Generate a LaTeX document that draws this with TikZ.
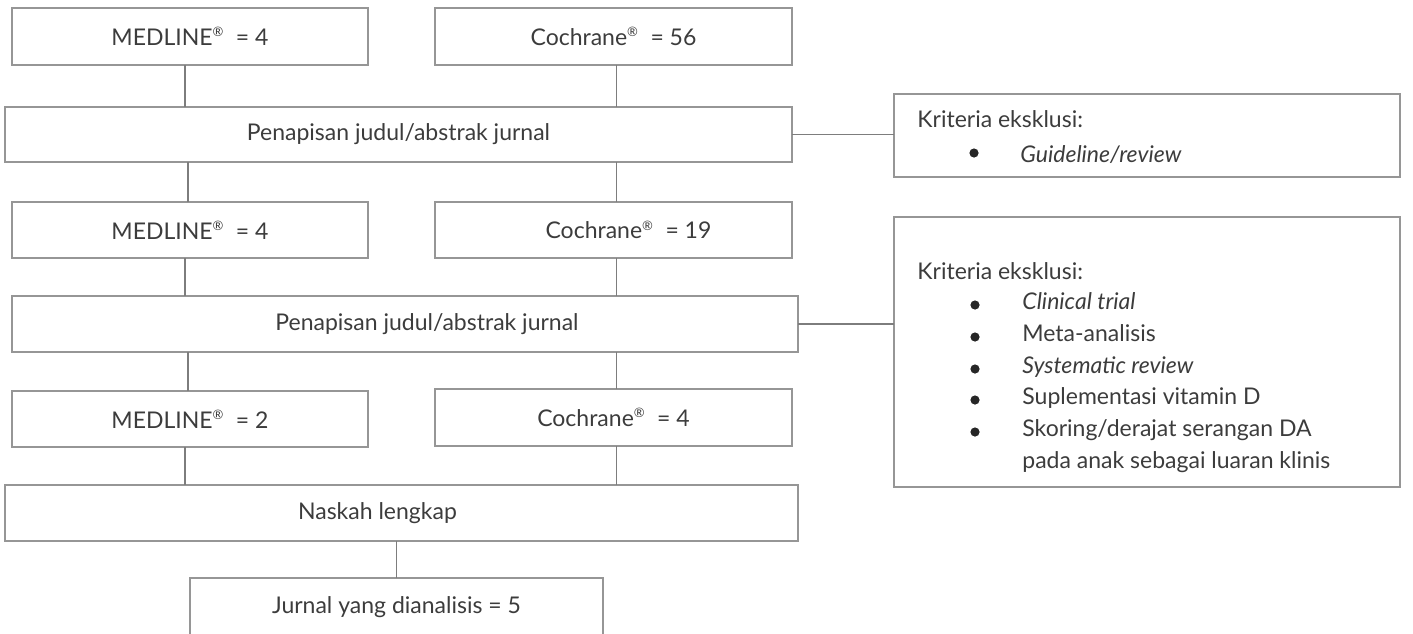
\documentclass[tikz,border=0pt]{standalone}
\usepackage{fontspec}
\setmainfont{Lato}
\definecolor{boxline}{RGB}{150,150,150}
\definecolor{connline}{RGB}{125,125,125}
\definecolor{txt}{RGB}{60,60,60}
\newcommand{\regmark}{\textsuperscript{\fontsize{6.5}{7}\selectfont ®}}
\begin{document}
\begin{tikzpicture}[x=0.5pt,y=-0.5pt,
  box/.style={draw=boxline, line width=0.6pt, inner sep=0pt, outer sep=0pt, text=txt, font=\fontsize{11.5}{14}\selectfont},
  conn/.style={draw=connline, line width=0.6pt},
  item/.style={anchor=base west, inner sep=0pt, text=txt, font=\fontsize{11.5}{14}\selectfont},
  dot/.style={circle, fill=black!85, inner sep=0pt, minimum size=4.6pt}]
\path[use as bounding box] (0,0) rectangle (1413,633);
\clip (0,0) rectangle (1413,633);
% boxes
\node[box, minimum width=178pt, minimum height=28.5pt] (m1) at (190,36.5) {MEDLINE\regmark\enspace= 4};
\node[box, minimum width=178.5pt, minimum height=28.5pt] (c1) at (613.5,36.5) {Cochrane\regmark\enspace= 56};
\node[box, minimum width=393.5pt, minimum height=27.5pt] (p1) at (398.5,134.5) {Penapisan judul/abstrak jurnal};
\node[box, minimum width=253pt, minimum height=41.5pt] (e1) at (1147,135.5) {};
\node[box, minimum width=178pt, minimum height=28pt] (m2) at (190,230) {MEDLINE\regmark\enspace= 4};
\node[box, minimum width=178.5pt, minimum height=28pt] (c2) at (613.5,230) {\hspace*{15pt}Cochrane\regmark\enspace= 19};
\node[box, minimum width=393pt, minimum height=28pt] (p2) at (405,324) {\hspace*{22pt}Penapisan judul/abstrak jurnal};
\node[box, minimum width=253pt, minimum height=135pt] (e2) at (1147,352) {};
\node[box, minimum width=178pt, minimum height=28pt] (m3) at (190,419) {MEDLINE\regmark\enspace= 2};
\node[box, minimum width=178.5pt, minimum height=28.5pt] (c3) at (613.5,417.5) {Cochrane\regmark\enspace= 4};
\node[box, minimum width=396.5pt, minimum height=28pt] (n) at (401.5,513) {Naskah lengkap\hspace*{24pt}};
\node[box, minimum width=206.5pt, minimum height=29pt] (j) at (396.5,607) {Jurnal yang dianalisis = 5};
% exclusion texts
\node[item] (e1t) at (917,127) {Kriteria eksklusi:};
\node[dot] (e1b1) at (974,153) {};
\node[item] (e1i1) at (1020,162) {\itshape Guideline/review};
\node[item] (e2t) at (917,279) {Kriteria eksklusi:};
\node[dot] (e2b1) at (975,305) {};
\node[item] (e2i1) at (1022,309) {\itshape Clinical trial};
\node[dot] (e2b2) at (975,337) {};
\node[item] (e2i2) at (1022,341) {Meta-analisis};
\node[dot] (e2b3) at (975,369) {};
\node[item] (e2i3) at (1022,373) {\itshape Systematic review};
\node[dot] (e2b4) at (975,400) {};
\node[item] (e2i4) at (1022,404) {Suplementasi vitamin D};
\node[dot] (e2b5) at (975,432) {};
\node[item] (e2i5) at (1022,436) {Skoring/derajat serangan DA};
\node[item] (e2i6) at (1022,468) {pada anak sebagai luaran klinis};
% connectors
\draw[conn] ([xshift=-2.5pt]m1.south) -- ([xshift=-2.5pt]m1.south |- p1.north);
\draw[conn] ([xshift=1.3pt]c1.south) -- ([xshift=1.3pt]c1.south |- p1.north);
\draw[conn] ([xshift=-1pt]m2.north) -- ([xshift=-1pt]m2.north |- p1.south);
\draw[conn] ([xshift=1.3pt]c2.north) -- ([xshift=1.3pt]c2.north |- p1.south);
\draw[conn] (p1.east) -- (p1.east -| e1.west);
\draw[conn] ([xshift=-2.5pt]m2.south) -- ([xshift=-2.5pt]m2.south |- p2.north);
\draw[conn] ([xshift=1.3pt]c2.south) -- ([xshift=1.3pt]c2.south |- p2.north);
\draw[conn] ([xshift=-1pt]m3.north) -- ([xshift=-1pt]m3.north |- p2.south);
\draw[conn] ([xshift=1.3pt]c3.north) -- ([xshift=1.3pt]c3.north |- p2.south);
\draw[conn] (p2.east) -- (p2.east -| e2.west);
\draw[conn] ([xshift=-2.5pt]m3.south) -- ([xshift=-2.5pt]m3.south |- n.north);
\draw[conn] ([xshift=1.3pt]c3.south) -- ([xshift=1.3pt]c3.south |- n.north);
\draw[conn] (j.north) -- (j.north |- n.south);
\end{tikzpicture}
\end{document}
